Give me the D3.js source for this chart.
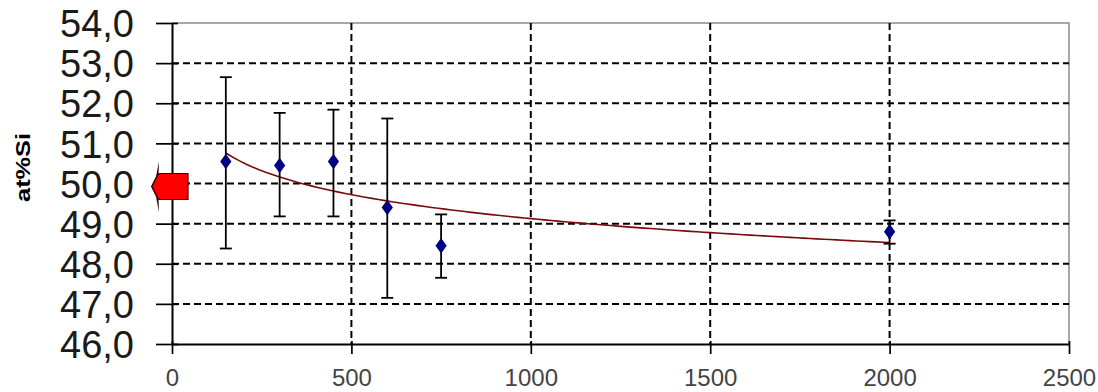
<!DOCTYPE html>
<html>
<head>
<meta charset="utf-8">
<script src="https://cdn.jsdelivr.net/npm/d3@7"></script>
<style>
  body { margin: 0; background: #fff; }
  svg { display: block; }
</style>
</head>
<body>
<div id="chart"></div>
<script>
// measured points (depth vs at%Si)
const xValues = [150, 300, 450, 600, 750, 2000];
const yValues = [50.55, 50.45, 50.55, 49.4, 48.45, 48.8];
const errLow  = [48.38, 49.18, 49.18, 47.15, 47.65, 48.5];
const errHigh = [52.65, 51.76, 51.84, 51.62, 49.23, 49.08];

// reference marker at the origin
const refX = [0];
const refY = [50];

const xTicks = [0, 500, 1000, 1500, 2000, 2500];
const yTicks = [46, 47, 48, 49, 50, 51, 52, 53, 54];

const width = 1098, height = 392;
const margin = { top: 23, right: 29, bottom: 48, left: 172 };
const innerW = width - margin.left - margin.right;
const innerH = height - margin.top - margin.bottom;

const svg = d3.select('#chart').append('svg')
  .attr('width', width)
  .attr('height', height);

const g = svg.append('g')
  .attr('transform', `translate(${margin.left},${margin.top})`);

const x = d3.scaleLinear().domain([0, 2500]).range([0, innerW]);
const y = d3.scaleLinear().domain([46, 54]).range([innerH, 0]);

const comma = d3.formatLocale({ decimal: ',', thousands: '.', grouping: [3], currency: ['', ''] });
const fmtY = comma.format('.1f');

// frame (top + right in grey)
g.append('path')
  .attr('d', `M0,${y(54)}H${x(2500)}V${y(46)}`)
  .attr('fill', 'none')
  .attr('stroke', '#8c8c8c')
  .attr('stroke-width', 1.5);

// dashed grid
g.selectAll('.hgrid')
  .data(yTicks.filter(d => d > 46 && d < 54))
  .enter().append('line')
  .attr('x1', 0).attr('x2', innerW)
  .attr('y1', d => y(d)).attr('y2', d => y(d))
  .attr('stroke', '#000').attr('stroke-width', 2)
  .attr('stroke-dasharray', '7,4');

g.selectAll('.vgrid')
  .data(xTicks.filter(d => d > 0 && d < 2500))
  .enter().append('line')
  .attr('x1', d => x(d)).attr('x2', d => x(d))
  .attr('y1', 0).attr('y2', innerH)
  .attr('stroke', '#000').attr('stroke-width', 2)
  .attr('stroke-dasharray', '7,4');

// axes
const yAxis = g.append('g')
  .call(d3.axisLeft(y).tickValues(yTicks).tickFormat(fmtY).tickSizeInner(-6).tickSizeOuter(0).tickPadding(0));
yAxis.selectAll('.tick line').attr('x1', -16).attr('x2', 6);
yAxis.selectAll('.tick text')
  .attr('x', -38)
  .attr('dy', '0.36em')
  .style('font-family', 'Arial, "Liberation Sans", sans-serif')
  .style('font-size', '38px')
  .attr('fill', '#1a1a1a');

const xAxis = g.append('g')
  .attr('transform', `translate(0,${innerH})`)
  .call(d3.axisBottom(x).tickValues(xTicks).tickFormat(d3.format('d')).tickSizeOuter(0));
xAxis.selectAll('.tick line').attr('y1', -3).attr('y2', 10);
xAxis.selectAll('.tick text')
  .attr('y', 42)
  .attr('dy', 0)
  .style('font-family', 'Arial, "Liberation Sans", sans-serif')
  .style('font-size', '24px')
  .attr('fill', '#444');

[yAxis, xAxis].forEach(a => {
  a.select('.domain').attr('stroke', '#000').attr('stroke-width', 2);
  a.selectAll('.tick line').attr('stroke', '#000').attr('stroke-width', 1.7);
});

// axis title
svg.append('text')
  .attr('transform', `translate(30,${margin.top + y(50.4)}) rotate(-90)`)
  .attr('text-anchor', 'middle')
  .attr('textLength', 69)
  .attr('lengthAdjust', 'spacingAndGlyphs')
  .style('font-family', 'Arial, "Liberation Sans", sans-serif')
  .style('font-weight', 'bold')
  .style('font-size', '20px')
  .text('at%Si');

// logarithmic trend fitted to the measured points
const lx = xValues.map(Math.log);
const mx = d3.mean(lx), my = d3.mean(yValues);
const slope = d3.sum(lx, (v, i) => (v - mx) * (yValues[i] - my)) / d3.sum(lx, v => (v - mx) ** 2);
const icpt = my - slope * mx;
const trendX = d3.range(0, 101).map(i => xValues[0] + (d3.max(xValues) - xValues[0]) * i / 100);

g.append('path')
  .datum(trendX)
  .attr('fill', 'none')
  .attr('stroke', '#7a0a0a')
  .attr('stroke-width', 1.6)
  .attr('d', d3.line().x(d => x(d)).y(d => y(icpt + slope * Math.log(d))));

// error bars
const cap = 6;
const bars = g.selectAll('.err')
  .data(xValues.map((d, i) => ({ x: d, lo: errLow[i], hi: errHigh[i] })))
  .enter().append('g')
  .attr('stroke', '#000').attr('stroke-width', 1.8);
bars.append('line')
  .attr('x1', d => x(d.x)).attr('x2', d => x(d.x))
  .attr('y1', d => y(d.lo)).attr('y2', d => y(d.hi));
bars.append('line')
  .attr('x1', d => x(d.x) - cap).attr('x2', d => x(d.x) + cap)
  .attr('y1', d => y(d.lo)).attr('y2', d => y(d.lo));
bars.append('line')
  .attr('x1', d => x(d.x) - cap).attr('x2', d => x(d.x) + cap)
  .attr('y1', d => y(d.hi)).attr('y2', d => y(d.hi));

// diamonds
g.selectAll('.pt')
  .data(xValues.map((d, i) => [d, yValues[i]]))
  .enter().append('path')
  .attr('d', d3.symbol(d3.symbolDiamond, 70))
  .attr('transform', d => `translate(${x(d[0])},${y(d[1])}) scale(1.25,1)`)
  .attr('fill', '#000080');

// red block marker with a thin dark head on the left
const ref = g.selectAll('.ref')
  .data(refX.map((d, i) => [d, refY[i]]))
  .enter().append('g')
  .attr('transform', d => `translate(${x(d[0])},${y(d[1]) + 3})`);
ref.append('path')
  .attr('d', 'M-13,-25 L-14,0 L-13,26 L-16,10 L-21,0 L-16,-10 Z')
  .attr('fill', '#2a0000');
ref.append('path')
  .attr('d', 'M-20,0 L-15,-10 L-13,-13 L16,-13 L16,13 L-13,13 L-15,10 Z')
  .attr('fill', '#ff0000')
  .attr('stroke', '#3a0000')
  .attr('stroke-width', 1.2);
</script>
</body>
</html>
